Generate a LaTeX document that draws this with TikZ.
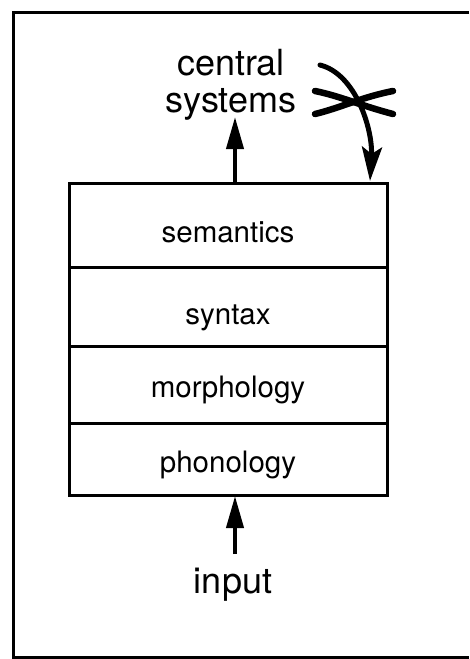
\documentclass[tikz,border=0pt]{standalone}
\usepackage{fontspec}
\setmainfont{TeX Gyre Heros}
\usetikzlibrary{arrows.meta}
\tikzset{
  frameline/.style={line width=3pt},
  layer/.style={draw, line width=3pt, minimum width=318pt, inner sep=0pt},
  lab/.style={font=\fontsize{29.5}{32}\selectfont, inner sep=0pt, anchor=base},
  biglab/.style={font=\fontsize{36}{40}\selectfont, inner sep=0pt, anchor=base},
  uparr/.style={line width=4pt, -{Triangle[length=32pt,width=17pt]}},
  curvarr/.style={line width=5pt, line cap=round, -{Stealth[length=34pt,width=20pt,inset=7pt]}},
  cross/.style={line width=6.5pt, line cap=round}
}
\begin{document}
\begin{tikzpicture}[x=1pt,y=-1pt]
\useasboundingbox (0,0) rectangle (469,659);
\draw[frameline] (469,12) -- (13,12) -- (13,657) -- (469,657);
% layers
\node[layer, minimum height=84pt] (sem) at (228,225) {};
\node[layer, minimum height=79pt] (syn) at (228,306.5) {};
\node[layer, minimum height=77pt] (mor) at (228,384.5) {};
\node[layer, minimum height=72pt] (pho) at (228,459) {};
\node[lab] (semt) at (228,242) {semantics};
\node[lab] (synt) at (228,324) {syntax};
\node[lab] (mort) at (228,397) {morphology};
\node[lab] (phot) at (228,472) {phonology};
% top labels
\node[biglab] (central) at (231,75) {central};
\node[biglab] (systems) at (231,112) {systems};
\node[biglab] (input) at (233,593) {input};
% arrows
\coordinate (upfrom) at (235,183);
\coordinate (upto) at (235,117);
\draw[uparr] (upfrom) -- (upto);
\coordinate (infrom) at (235,554);
\coordinate (into) at (235,496);
\draw[uparr] (infrom) -- (into);
\coordinate (cstart) at (320,65);
\coordinate (cend) at (370,181);
\draw[curvarr] (cstart) .. controls (356,74) and (373,130) .. (cend);
% cross
\coordinate (xa1) at (315,91);
\coordinate (xa2) at (393,114);
\coordinate (xb1) at (315,114);
\coordinate (xb2) at (393,91);
\draw[cross] (xa1) .. controls (340,96) and (362,106) .. (xa2);
\draw[cross] (xb1) .. controls (340,108) and (362,97) .. (xb2);
\end{tikzpicture}
\end{document}
